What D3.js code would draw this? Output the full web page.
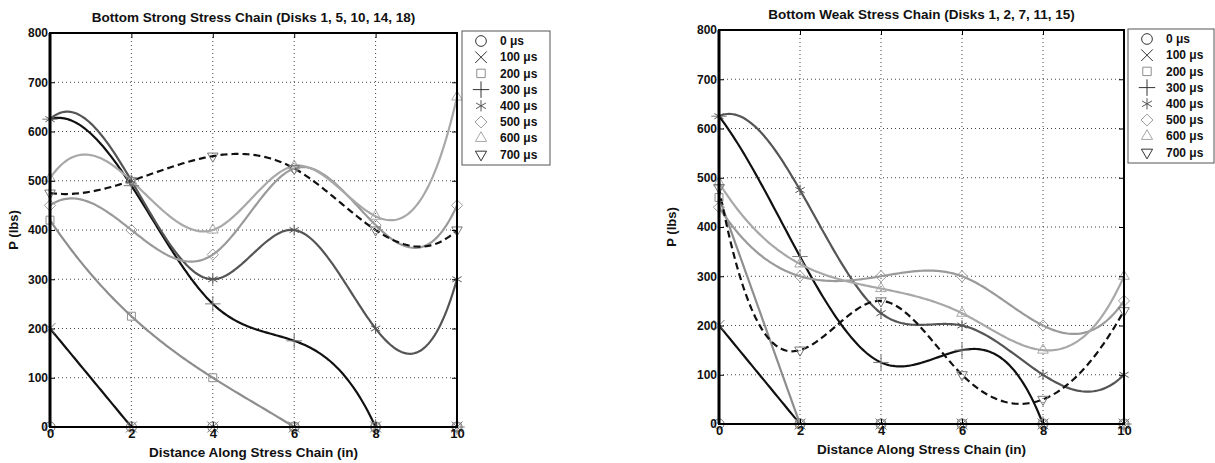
<!DOCTYPE html>
<html>
<head>
<meta charset="utf-8">
<script src="https://cdn.jsdelivr.net/npm/d3@7"></script>
<style>
  body { margin: 0; background: #fff; }
  svg text { font-family: "Liberation Sans", Arial, sans-serif; font-weight: bold; fill: #111; }
</style>
</head>
<body>
<svg id="chart" width="1215" height="463"></svg>
<script>
// distance along the chain (in) and the load P (lbs) at each disk
const distance = [0, 2, 4, 6, 8, 10];
const timeLabels = ['0 μs', '100 μs', '200 μs', '300 μs', '400 μs', '500 μs', '600 μs', '700 μs'];
const yTicks = [0, 100, 200, 300, 400, 500, 600, 700, 800];

// Bottom strong stress chain (disks 1, 5, 10, 14, 18)
const strong0 = [0, 0, 0, 0, 0, 0];
const strong100 = [200, 0, 0, 0, 0, 0];
const strong200 = [420, 225, 100, 0, 0, 0];
const strong300 = [625, 490, 250, 175, 0, 0];
const strong400 = [625, 500, 300, 400, 200, 300];
const strong500 = [450, 400, 350, 525, 410, 450];
const strong600 = [505, 500, 400, 530, 428, 670];
const strong700 = [475, 500, 550, 525, 400, 400];

// Bottom weak stress chain (disks 1, 2, 7, 11, 15)
const weak0 = [0, 0, 0, 0, 0, 0];
const weak100 = [200, 0, 0, 0, 0, 0];
const weak200 = [460, 0, 0, 0, 0, 0];
const weak300 = [625, 340, 125, 150, 0, 0];
const weak400 = [625, 475, 225, 200, 100, 100];
const weak500 = [440, 300, 300, 300, 200, 250];
const weak600 = [490, 325, 275, 225, 150, 300];
const weak700 = [480, 150, 250, 100, 50, 230];

// line look per time step (matlab-ish greyscale print)
const styles = [
  { color: '#111', dash: null, symbol: 'circle' },
  { color: '#111', dash: null, symbol: 'x' },
  { color: '#8e8e8e', dash: null, symbol: 'square' },
  { color: '#111', dash: null, symbol: 'plus' },
  { color: '#555', dash: null, symbol: 'asterisk' },
  { color: '#9a9a9a', dash: null, symbol: 'diamond' },
  { color: '#a8a8a8', dash: null, symbol: 'triangle' },
  { color: '#111', dash: '7,4', symbol: 'triangleDown' }
];

const symbolTypes = {
  circle: d3.symbolCircle,
  x: d3.symbolX,
  square: d3.symbolSquare2,
  plus: d3.symbolPlus,
  asterisk: d3.symbolAsterisk,
  diamond: d3.symbolDiamond2,
  triangle: d3.symbolTriangle2,
  triangleDown: d3.symbolTriangle2
};

// cubic spline with not-a-knot ends (same as matlab spline())
function spline(xs, ys) {
  const n = xs.length;
  if (n === 2) {
    return x => ys[0] + (ys[1] - ys[0]) * (x - xs[0]) / (xs[1] - xs[0]);
  }
  if (n === 3) {
    // a single parabola through the three points
    return x => ys[0] * (x - xs[1]) * (x - xs[2]) / ((xs[0] - xs[1]) * (xs[0] - xs[2]))
      + ys[1] * (x - xs[0]) * (x - xs[2]) / ((xs[1] - xs[0]) * (xs[1] - xs[2]))
      + ys[2] * (x - xs[0]) * (x - xs[1]) / ((xs[2] - xs[0]) * (xs[2] - xs[1]));
  }
  const h = d3.range(n - 1).map(i => xs[i + 1] - xs[i]);
  const A = d3.range(n).map(() => new Array(n).fill(0));
  const b = new Array(n).fill(0);
  A[0][0] = -h[1]; A[0][1] = h[0] + h[1]; A[0][2] = -h[0];
  for (let i = 1; i < n - 1; i++) {
    A[i][i - 1] = h[i - 1];
    A[i][i] = 2 * (h[i - 1] + h[i]);
    A[i][i + 1] = h[i];
    b[i] = 6 * ((ys[i + 1] - ys[i]) / h[i] - (ys[i] - ys[i - 1]) / h[i - 1]);
  }
  A[n - 1][n - 3] = -h[n - 2]; A[n - 1][n - 2] = h[n - 3] + h[n - 2]; A[n - 1][n - 1] = -h[n - 3];

  // gaussian elimination
  for (let c = 0; c < n; c++) {
    let p = c;
    for (let r = c + 1; r < n; r++) if (Math.abs(A[r][c]) > Math.abs(A[p][c])) p = r;
    [A[c], A[p]] = [A[p], A[c]];
    [b[c], b[p]] = [b[p], b[c]];
    for (let r = c + 1; r < n; r++) {
      const f = A[r][c] / A[c][c];
      for (let k = c; k < n; k++) A[r][k] -= f * A[c][k];
      b[r] -= f * b[c];
    }
  }
  const M = new Array(n).fill(0);
  for (let r = n - 1; r >= 0; r--) {
    let s = b[r];
    for (let k = r + 1; k < n; k++) s -= A[r][k] * M[k];
    M[r] = s / A[r][r];
  }

  return x => {
    let i = Math.min(n - 2, Math.max(0, d3.bisectRight(xs, x) - 1));
    const hi = h[i], a = xs[i + 1] - x, t = x - xs[i];
    return M[i] * a * a * a / (6 * hi) + M[i + 1] * t * t * t / (6 * hi)
      + (ys[i] / hi - M[i] * hi / 6) * a + (ys[i + 1] / hi - M[i + 1] * hi / 6) * t;
  };
}

// spline over the loaded part of the chain, then flat once the load has dropped to zero
function curvePoints(vals) {
  let last = vals.length - 1;
  while (last > 0 && vals[last] === 0 && vals[last - 1] === 0) last--;
  const pts = [];
  if (last === 0) {
    distance.forEach((d, j) => pts.push([d, vals[j]]));
    return pts;
  }
  const f = spline(distance.slice(0, last + 1), vals.slice(0, last + 1));
  const end = distance[last];
  d3.range(0, end + 0.0001, 0.05).forEach(v => pts.push([v, f(v)]));
  for (let j = last + 1; j < distance.length; j++) pts.push([distance[j], vals[j]]);
  return pts;
}

const svg = d3.select('#chart');

function drawPanel(opts) {
  const { left, top, width, height, title, series, legendBox, yLabelX, id } = opts;

  const x = d3.scaleLinear().domain([0, 10]).range([left, left + width]);
  const y = d3.scaleLinear().domain([0, 800]).range([top + height, top]);

  const g = svg.append('g');

  // dotted grid
  g.append('g').selectAll('line.gx').data(distance.slice(1, -1)).join('line')
    .attr('x1', d => x(d)).attr('x2', d => x(d))
    .attr('y1', top).attr('y2', top + height)
    .attr('stroke', '#444').attr('stroke-width', 1).attr('stroke-dasharray', '1,3');
  g.append('g').selectAll('line.gy').data(yTicks.slice(1, -1)).join('line')
    .attr('y1', d => y(d)).attr('y2', d => y(d))
    .attr('x1', left).attr('x2', left + width)
    .attr('stroke', '#444').attr('stroke-width', 1).attr('stroke-dasharray', '1,3');

  g.append('clipPath').attr('id', id).append('rect')
    .attr('x', left).attr('y', top - 1).attr('width', width).attr('height', height + 1);

  const line = d3.line().x(d => x(d[0])).y(d => y(d[1]));

  series.forEach((vals, i) => {
    const st = styles[i];
    g.append('path')
      .attr('clip-path', `url(#${id})`)
      .attr('d', line(curvePoints(vals)))
      .attr('fill', 'none')
      .attr('stroke', st.color)
      .attr('stroke-width', 2.2)
      .attr('stroke-dasharray', st.dash);
  });

  // markers on the data points
  series.forEach((vals, i) => {
    const st = styles[i];
    const sym = d3.symbol(symbolTypes[st.symbol], 80);
    g.append('g').selectAll('path').data(vals).join('path')
      .attr('d', sym)
      .attr('transform', (d, j) => `translate(${x(distance[j])},${y(d)})` + (st.symbol === 'triangleDown' ? ' rotate(180)' : ''))
      .attr('fill', 'none')
      .attr('stroke', st.color === '#111' ? '#777' : st.color)
      .attr('stroke-width', 1);
  });

  // axes, ticks pointing inward like matlab
  g.append('g').attr('transform', `translate(0,${top + height})`)
    .call(d3.axisBottom(x).tickValues(distance).tickSize(-5).tickPadding(2).tickFormat(d3.format('d')))
    .call(a => a.select('.domain').remove())
    .call(a => a.selectAll('text').attr('font-size', 13).attr('dy', '0.72em'));
  g.append('g').attr('transform', `translate(${left},0)`)
    .call(d3.axisLeft(y).tickValues(yTicks).tickSize(-5).tickPadding(2))
    .call(a => a.select('.domain').remove())
    .call(a => a.selectAll('text').attr('font-size', 12));
  g.append('g').attr('transform', `translate(0,${top})`)
    .call(d3.axisTop(x).tickValues(distance).tickSize(-5).tickFormat(''))
    .call(a => a.select('.domain').remove());
  g.append('g').attr('transform', `translate(${left + width},0)`)
    .call(d3.axisRight(y).tickValues(yTicks).tickSize(-5).tickFormat(''))
    .call(a => a.select('.domain').remove());

  g.append('rect')
    .attr('x', left).attr('y', top).attr('width', width).attr('height', height)
    .attr('fill', 'none').attr('stroke', '#000').attr('stroke-width', 2);
  g.append('line')
    .attr('x1', left).attr('x2', left).attr('y1', top).attr('y2', top + height)
    .attr('stroke', '#000').attr('stroke-width', 3);

  g.append('text')
    .attr('x', left + width / 2).attr('y', top - 11)
    .attr('text-anchor', 'middle').attr('font-size', 13.5)
    .text(title);
  g.append('text')
    .attr('x', left + width / 2).attr('y', top + height + 30)
    .attr('text-anchor', 'middle').attr('font-size', 13.5)
    .text('Distance Along Stress Chain (in)');
  g.append('text')
    .attr('transform', `translate(${yLabelX},${top + height / 2}) rotate(-90)`)
    .attr('text-anchor', 'middle').attr('font-size', 13)
    .text('P (lbs)');

  // legend
  const lg = g.append('g');
  lg.append('rect')
    .attr('x', legendBox.x).attr('y', legendBox.y)
    .attr('width', legendBox.w).attr('height', legendBox.h)
    .attr('fill', '#fff').attr('stroke', '#555').attr('stroke-width', 1);
  timeLabels.forEach((lab, i) => {
    const ly = legendBox.y + 10 + i * 16.2;
    const st = styles[i];
    lg.append('path')
      .attr('d', d3.symbol(symbolTypes[st.symbol], 90)())
      .attr('transform', `translate(${legendBox.x + 19},${ly})` + (st.symbol === 'triangleDown' ? ' rotate(180)' : ''))
      .attr('fill', 'none').attr('stroke', st.color === '#111' ? '#333' : st.color).attr('stroke-width', 1);
    lg.append('text')
      .attr('x', legendBox.x + 38).attr('y', ly).attr('dy', '0.35em')
      .attr('font-size', 12).text(lab);
  });
}

drawPanel({
  id: 'clipStrong',
  left: 50, top: 33, width: 407, height: 394,
  title: 'Bottom Strong Stress Chain (Disks 1, 5, 10, 14, 18)',
  series: [strong0, strong100, strong200, strong300, strong400, strong500, strong600, strong700],
  legendBox: { x: 462, y: 31, w: 88, h: 134 },
  yLabelX: 18
});

drawPanel({
  id: 'clipWeak',
  left: 719, top: 30, width: 405, height: 394,
  title: 'Bottom Weak Stress Chain (Disks 1, 2, 7, 11, 15)',
  series: [weak0, weak100, weak200, weak300, weak400, weak500, weak600, weak700],
  legendBox: { x: 1128, y: 29, w: 86, h: 134 },
  yLabelX: 676
});
</script>
</body>
</html>
